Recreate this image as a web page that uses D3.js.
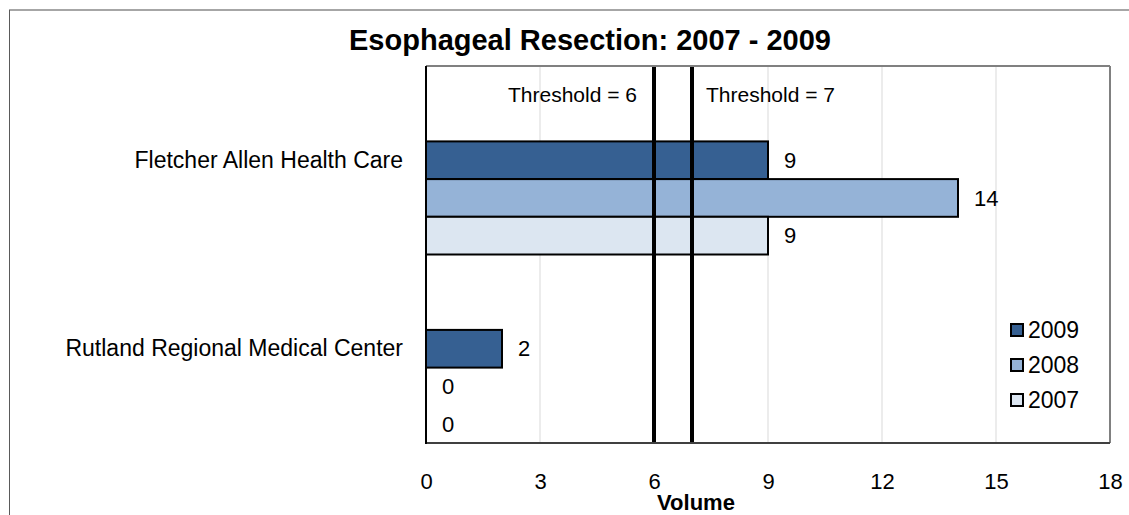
<!DOCTYPE html>
<html>
<head>
<meta charset="utf-8">
<script src="https://cdn.jsdelivr.net/npm/d3@7"></script>
<style>
  body { margin: 0; background: #fff; }
  svg { display: block; font-family: Arial, "Liberation Sans", sans-serif; }
  .tick text { fill: #000; }
</style>
</head>
<body>
<svg id="chart" width="1129" height="515"></svg>
<script>
'use strict';

// values
const hospitals = ['Fletcher Allen Health Care', 'Rutland Regional Medical Center'];
const years = ['2009', '2008', '2007'];
const vol2009 = [9, 2];
const vol2008 = [14, 0];
const vol2007 = [9, 0];
const thresholds = [6, 7];
const xTicks = [0, 3, 6, 9, 12, 15, 18];
const colors = ['#366092', '#95B3D7', '#DCE6F1'];

const svg = d3.select('#chart');
// plot area edges (window.top is taken, hence the names)
const plotL = 426, plotR = 1110, plotT = 66, plotB = 443;

// outer frame of the chart object (top and left edges visible)
svg.append('line').attr('x1', 9).attr('x2', 1129).attr('y1', 10).attr('y2', 10)
   .attr('stroke', '#a6a6a6').attr('stroke-width', 2);
svg.append('line').attr('x1', 9.5).attr('x2', 9.5).attr('y1', 10).attr('y2', 515)
   .attr('stroke', '#5a5a5a').attr('stroke-width', 1);

const x = d3.scaleLinear().domain([0, 18]).range([plotL, plotR]);
const y = d3.scaleBand().domain(hospitals).range([plotT, plotB]).padding(0);
// bars fill the last three fifths of each band, like the excel layout
const ySeries = d3.scaleBand().domain(years)
  .range([y.bandwidth() * 0.4, y.bandwidth()]).padding(0);

const series = years.map((yr, i) => ({
  year: yr,
  color: colors[i],
  values: [vol2009, vol2008, vol2007][i]
}));

// gridlines
svg.append('g')
   .selectAll('line')
   .data(xTicks.slice(1, -1))
   .join('line')
   .attr('x1', d => x(d)).attr('x2', d => x(d))
   .attr('y1', plotT).attr('y2', plotB)
   .attr('stroke', '#d9d9d9').attr('stroke-width', 1);

// bars
series.forEach(s => {
  const g = svg.append('g');
  g.selectAll('rect')
   .data(hospitals.filter((h, i) => s.values[i] > 0))
   .join('rect')
   .attr('x', x(0))
   .attr('y', h => y(h) + ySeries(s.year))
   .attr('width', h => x(s.values[hospitals.indexOf(h)]) - x(0))
   .attr('height', ySeries.bandwidth())
   .attr('fill', s.color)
   .attr('stroke', '#000')
   .attr('stroke-width', 2);
  g.selectAll('text')
   .data(hospitals)
   .join('text')
   .attr('x', (h, i) => x(s.values[i]) + 16)
   .attr('y', h => y(h) + ySeries(s.year) + ySeries.bandwidth() / 2)
   .attr('dy', '0.35em')
   .attr('font-size', '22px')
   .text((h, i) => s.values[i]);
});

// threshold lines
svg.append('g')
   .selectAll('line')
   .data(thresholds)
   .join('line')
   .attr('x1', d => x(d)).attr('x2', d => x(d))
   .attr('y1', plotT).attr('y2', plotB)
   .attr('stroke', '#000').attr('stroke-width', 4);

svg.append('text')
   .attr('x', x(thresholds[0]) - 17).attr('y', 102)
   .attr('text-anchor', 'end').attr('font-size', '21px')
   .text(`Threshold = ${thresholds[0]}`);
svg.append('text')
   .attr('x', x(thresholds[1]) + 14).attr('y', 102)
   .attr('text-anchor', 'start').attr('font-size', '21px')
   .text(`Threshold = ${thresholds[1]}`);

// plot border
svg.append('line').attr('x1', plotL).attr('x2', plotR).attr('y1', plotT).attr('y2', plotT)
   .attr('stroke', '#808080').attr('stroke-width', 2);
svg.append('line').attr('x1', plotR).attr('x2', plotR).attr('y1', plotT).attr('y2', plotB)
   .attr('stroke', '#808080').attr('stroke-width', 2);
svg.append('line').attr('x1', plotL).attr('x2', plotR).attr('y1', plotB).attr('y2', plotB)
   .attr('stroke', '#404040').attr('stroke-width', 2);
svg.append('line').attr('x1', plotL).attr('x2', plotL).attr('y1', plotT).attr('y2', plotB + 1)
   .attr('stroke', '#000').attr('stroke-width', 2);

// axes
const xAxis = svg.append('g')
   .attr('transform', `translate(0,${plotB})`)
   .call(d3.axisBottom(x).tickValues(xTicks).tickSize(0).tickPadding(30));
xAxis.select('.domain').remove();
xAxis.selectAll('text').attr('font-size', '22px');
xAxis.attr('font-family', null).attr('font-size', null);

const yAxis = svg.append('g')
   .attr('transform', `translate(${plotL},0)`)
   .call(d3.axisLeft(y).tickSize(0).tickPadding(23));
yAxis.select('.domain').remove();
yAxis.selectAll('text').attr('font-size', '23px');
yAxis.attr('font-family', null).attr('font-size', null);

// titles
svg.append('text')
   .attr('x', 590).attr('y', 50)
   .attr('text-anchor', 'middle')
   .attr('font-size', '29px').attr('font-weight', 'bold')
   .text('Esophageal Resection: 2007 - 2009');
svg.append('text')
   .attr('x', 696).attr('y', 510)
   .attr('text-anchor', 'middle')
   .attr('font-size', '22px').attr('font-weight', 'bold')
   .text('Volume');

// legend
const legend = svg.append('g').attr('transform', 'translate(1010,0)');
series.forEach((s, i) => {
  const cy = 330 + i * 35;
  legend.append('rect')
     .attr('x', 1).attr('y', cy - 6).attr('width', 12).attr('height', 12)
     .attr('fill', s.color).attr('stroke', '#000').attr('stroke-width', 2);
  legend.append('text')
     .attr('x', 18).attr('y', cy).attr('dy', '0.36em')
     .attr('font-size', '23px')
     .text(s.year);
});
</script>
</body>
</html>
